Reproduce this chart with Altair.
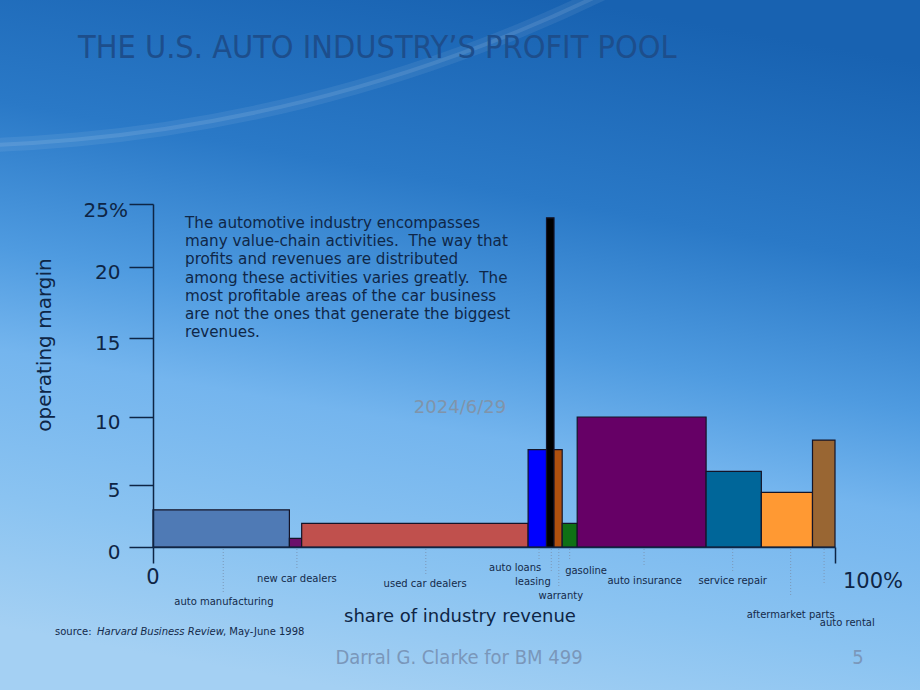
import altair as alt
import pandas as pd

# ---------------- data ----------------
categories = ["auto manufacturing", "new car dealers", "used car dealers", "auto loans",
              "leasing", "warranty", "gasoline", "auto insurance", "service repair",
              "aftermarket parts", "auto rental"]
revenue_share = [20.0, 1.8, 33.2, 2.7, 1.1, 1.2, 2.2, 18.9, 8.1, 7.5, 3.3]      # % of industry revenue
operating_margin = [3.0, 0.7, 1.9, 7.6, 23.9, 7.6, 1.9, 10.0, 6.0, 4.4, 8.3]   # % operating margin
bar_colors = ["#4F7AB5", "#6B0F6B", "#C0504D", "#0000FF", "#000000", "#B0500E",
              "#0F7015", "#660066", "#006699", "#FF9933", "#996633"]
y_ticks = [0, 5, 10, 15, 20, 25]
x_ticks = [0, 100]

# label layout (label centre in % of revenue, leader line position)
label_x = [10.4, 21.1, 39.9, 53.1, 55.7, 59.8, 63.5, 72.1, 85.0, 93.5, 101.8]
label_y = [602, 579, 584, 568, 582, 596, 571, 581, 581, 615, 623]
leader_x = [10.3, 21.1, 40.0, 56.6, 58.4, 59.5, 61.1, 72.0, 85.0, 93.5, 98.4]
leader_end = [592, 570, 575, 560, 573, 587, 560, 567, 573, 597, 583]

# ---------------- tables ----------------
bars = pd.DataFrame({"cat": categories, "share": revenue_share, "margin": operating_margin})
bars["end"] = bars["share"].cumsum()
bars["start"] = bars["end"] - bars["share"]
bars["zero"] = 0.0

labels = pd.DataFrame({"cat": categories, "lx": label_x, "ly": label_y,
                       "qx": leader_x, "qy0": 549, "qy1": leader_end})

NAVY = "#0E2545"
FONT = "DejaVu Sans"
NARROW = "Liberation Sans Narrow, DejaVu Sans Condensed, Arial"

xscale = alt.Scale(domain=[0, 100], range=[153, 835], nice=False, zero=False)
yscale = alt.Scale(domain=y_ticks, range=[547, 485, 417, 338, 267, 204], nice=False, zero=False)

xaxis = alt.Axis(values=x_ticks, labels=False, title=None, grid=False, offset=-143, zindex=2,
                 tickSize=16, tickColor=NAVY, domainColor=NAVY, tickWidth=1.5, domainWidth=1.5)
yaxis = alt.Axis(values=y_ticks, title=None, grid=False, offset=-153, tickSize=24, zindex=2,
                 tickColor=NAVY, domainColor=NAVY, tickWidth=1.5, domainWidth=1.5,
                 labelExpr="datum.value == 25 ? '' : datum.label",
                 labelFont=FONT, labelFontSize=20, labelColor=NAVY,
                 labelPadding=9, labelOffset=5)

one = pd.DataFrame({"a": [0]})

# ---------------- background ----------------
bg = alt.Chart(one).mark_rect(
    color=alt.Gradient(
        gradient="linear",
        stops=[alt.GradientStop(color="#1862B1", offset=0),
               alt.GradientStop(color="#2A79C7", offset=0.28),
               alt.GradientStop(color="#4F9BE0", offset=0.48),
               alt.GradientStop(color="#74B5EE", offset=0.62),
               alt.GradientStop(color="#8AC3F1", offset=0.82),
               alt.GradientStop(color="#A4D0F3", offset=1)],
        x1=0.62, y1=0, x2=0.38, y2=1)
).encode(x=alt.value(0), x2=alt.value(920), y=alt.value(0), y2=alt.value(690))

streak_wide = alt.Chart(one).mark_arc(theta=2.6, theta2=3.2, radius=1522, radius2=1536,
                                      color="#FFFFFF", opacity=0.07).encode(
    x=alt.value(-63), y=alt.value(-1383))
streak = alt.Chart(one).mark_arc(theta=2.6, theta2=3.2, radius=1527, radius2=1531,
                                 color="#FFFFFF", opacity=0.1).encode(
    x=alt.value(-63), y=alt.value(-1383))

# ---------------- bars ----------------
rects = alt.Chart(bars).mark_rect(stroke="#141428", strokeWidth=1.2).encode(
    x=alt.X("start:Q", scale=xscale, axis=xaxis),
    x2="end:Q",
    y=alt.Y("zero:Q", scale=yscale, axis=yaxis),
    y2="margin:Q",
    color=alt.Color("cat:N", scale=alt.Scale(domain=categories, range=bar_colors), legend=None),
)

# ---------------- leader lines and labels ----------------
leaders = alt.Chart(labels).mark_rule(color="#7C98B8", strokeWidth=1, strokeDash=[1, 2]).encode(
    x=alt.X("qx:Q", scale=xscale, axis=xaxis),
    y=alt.Y("qy0:Q", scale=None),
    y2="qy1:Q",
)

cat_text = alt.Chart(labels).mark_text(font=FONT, fontSize=10, color="#142A4A",
                                        align="center", baseline="middle").encode(
    x=alt.X("lx:Q", scale=xscale, axis=xaxis),
    y=alt.Y("ly:Q", scale=None),
    text="cat:N",
)


def txt(s, x, y, size, color, align="left", baseline="middle", font=FONT,
        style="normal", angle=0, opacity=1.0, line_height=None):
    kw = dict(font=font, fontSize=size, color=color, align=align, baseline=baseline,
              fontStyle=style, angle=angle, opacity=opacity)
    if line_height is not None:
        kw["lineHeight"] = line_height
        kw["lineBreak"] = "\n"
    return alt.Chart(pd.DataFrame({"t": [s]})).mark_text(**kw).encode(
        x=alt.value(x), y=alt.value(y), text="t:N")


NB = "\u00a0"
body = ("The automotive industry encompasses\n"
        f"many value-chain activities. {NB}The way that\n"
        "profits and revenues are distributed\n"
        f"among these activities varies greatly. {NB}The\n"
        "most profitable areas of the car business\n"
        "are not the ones that generate the biggest\n"
        "revenues.")

texts = [
    txt("THE U.S. AUTO INDUSTRY\u2019S PROFIT POOL", 78, 58, 32.2, "#1D4E8C",
        baseline="alphabetic", font=NARROW),
    txt(body, 185, 228, 15.2, "#0F2748", baseline="alphabetic", line_height=18.2),
    txt("2024/6/29", 460, 408, 18, "#8094AA", align="center"),
    txt("operating margin", 45, 345, 20, NAVY, align="center", angle=270),
    txt("25%", 128, 211, 20, NAVY, align="right"),
    txt("0", 153, 578, 21, NAVY, align="center"),
    txt("100%", 843, 582, 21, NAVY),
    txt("share of industry revenue", 460, 617, 18, NAVY, align="center"),
    txt("source:", 55, 632, 10, "#142A4A"),
    txt("Harvard Business Review", 97, 632, 10, "#142A4A", style="italic"),
    txt(", May-June 1998", 223, 632, 10, "#142A4A"),
    txt("Darral G. Clarke for BM 499", 459, 658, 20, "#7A97BA", align="center", font=NARROW),
    txt("5", 858, 658, 20, "#7A97BA", align="center", font=NARROW),
]

chart = alt.layer(bg, streak_wide, streak, rects, leaders, cat_text, *texts).properties(
    width=920, height=690, padding=0, autosize=alt.AutoSizeParams(type="none"),
    background="#2A7AC8",
).configure_view(stroke=None)

chart.save("out.html", embed_options={"renderer": "svg", "actions": False})
